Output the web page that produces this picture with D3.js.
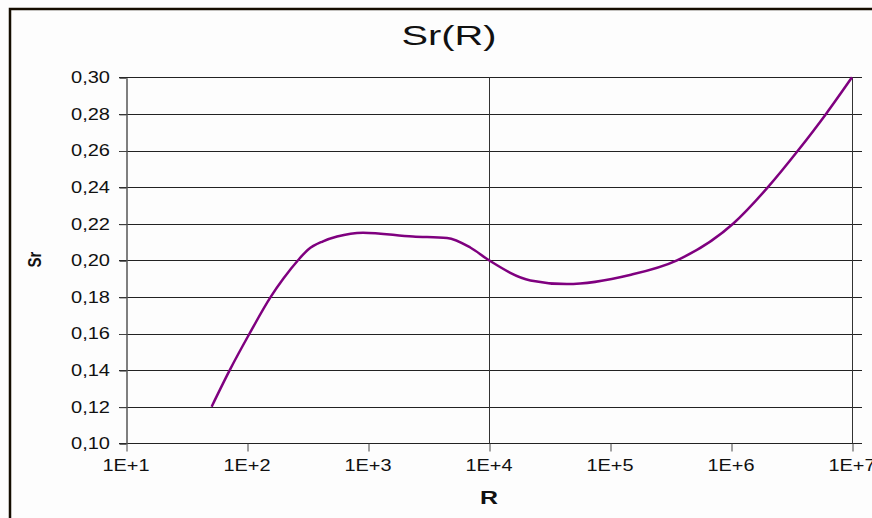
<!DOCTYPE html>
<html>
<head>
<meta charset="utf-8">
<script src="https://cdn.jsdelivr.net/npm/d3@7"></script>
<style>
  html, body { margin: 0; padding: 0; background: #fdfdfd; }
  svg { display: block; font-family: "Liberation Sans", Arial, sans-serif; }
</style>
</head>
<body>
<div id="chart"></div>
<script>
// Data
const rValues  = [51, 72, 105, 157, 200, 264, 319, 425, 555, 910, 2350, 4500, 7000, 10000, 22000, 44000, 146000, 358000, 1040000, 2020000, 3580000, 6100000, 10000000];
const srValues = [0.12, 0.14, 0.16, 0.18, 0.19, 0.20, 0.2058, 0.2104, 0.213, 0.2151, 0.213, 0.2122, 0.207, 0.20, 0.189, 0.187, 0.192, 0.20, 0.22, 0.24, 0.26, 0.28, 0.30];

const xTickValues = [1e1, 1e2, 1e3, 1e4, 1e5, 1e6, 1e7];
const xTickLabels = ["1E+1", "1E+2", "1E+3", "1E+4", "1E+5", "1E+6", "1E+7"];
const xGridValues = [1e4, 1e7];
const yTickValues = [0.10, 0.12, 0.14, 0.16, 0.18, 0.20, 0.22, 0.24, 0.26, 0.28, 0.30];

const data = rValues.map((r, i) => ({ r: r, sr: srValues[i] }));

const width = 872, height = 518;

const svg = d3.select("#chart")
              .append("svg")
              .attr("width", width)
              .attr("height", height);

// Chart border (runs off the right and bottom of the picture)
svg.append("rect")
   .attr("x", 10)
   .attr("y", 9)
   .attr("width", 900)
   .attr("height", 600)
   .attr("fill", "#fdfdfd")
   .attr("stroke", "#150d00")
   .attr("stroke-width", 2.5);

// Scales
const xScale = d3.scaleLog()
                 .domain([10, 1e7])
                 .range([126, 852]);

const yScale = d3.scaleLinear()
                 .domain([0.10, 0.30])
                 .range([443.3, 77.3]);

// Horizontal gridlines (they stick out a bit past the right edge)
svg.append("g")
   .selectAll("line")
   .data(yTickValues)
   .enter()
   .append("line")
   .attr("x1", 119)
   .attr("x2", 862)
   .attr("y1", d => Math.round(yScale(d)) + 0.5)
   .attr("y2", d => Math.round(yScale(d)) + 0.5)
   .attr("stroke", "#222")
   .attr("stroke-width", 1);

// Vertical gridlines
svg.append("g")
   .selectAll("line")
   .data(xGridValues)
   .enter()
   .append("line")
   .attr("x1", d => Math.round(xScale(d)) + 0.5)
   .attr("x2", d => Math.round(xScale(d)) + 0.5)
   .attr("y1", yScale(0.30))
   .attr("y2", yScale(0.10))
   .attr("stroke", "#333")
   .attr("stroke-width", 1);

// Y axis (left line + ticks)
const yAxis = svg.append("g")
   .attr("transform", "translate(126.5,0.5)")
   .call(d3.axisLeft(yScale)
           .tickValues(yTickValues)
           .tickSize(7)
           .tickSizeOuter(0)
           .tickFormat(""));
yAxis.select(".domain").attr("stroke", "#555").attr("stroke-width", 1.5);
yAxis.selectAll(".tick line").attr("stroke", "#444");

// X axis ticks
const xAxis = svg.append("g")
   .attr("transform", `translate(0.5,${Math.round(yScale(0.10)) + 0.5})`)
   .call(d3.axisBottom(xScale)
           .tickValues(xTickValues)
           .tickSize(8)
           .tickSizeOuter(0)
           .tickFormat(""));
xAxis.select(".domain").remove();
xAxis.selectAll(".tick line").attr("stroke", "#444");

// Y tick labels
svg.append("g")
   .selectAll("text")
   .data(yTickValues)
   .enter()
   .append("text")
   .attr("x", 110)
   .attr("y", d => yScale(d) + 5.8)
   .attr("text-anchor", "end")
   .attr("textLength", 39)
   .attr("lengthAdjust", "spacingAndGlyphs")
   .style("font-size", "16px")
   .style("fill", "#111")
   .text(d => d3.format(".2f")(d).replace(".", ","));

// X tick labels
svg.append("g")
   .selectAll("text")
   .data(xTickValues)
   .enter()
   .append("text")
   .attr("x", d => xScale(d))
   .attr("y", 470.5)
   .attr("text-anchor", "middle")
   .attr("textLength", 47)
   .attr("lengthAdjust", "spacingAndGlyphs")
   .style("font-size", "16px")
   .style("fill", "#111")
   .text((d, i) => xTickLabels[i]);

// Title
svg.append("text")
   .attr("x", 449)
   .attr("y", 45)
   .attr("text-anchor", "middle")
   .attr("textLength", 95)
   .attr("lengthAdjust", "spacingAndGlyphs")
   .style("font-size", "27px")
   .style("fill", "#111")
   .text("Sr(R)");

// Y axis label
svg.append("text")
   .attr("transform", "translate(35,259.5) scale(1.18,1) rotate(-90)")
   .attr("text-anchor", "middle")
   .attr("dy", "0.36em")
   .style("font-size", "15px")
   .style("font-weight", "bold")
   .style("fill", "#111")
   .text("Sr");

// X axis label
svg.append("text")
   .attr("x", 489)
   .attr("y", 504)
   .attr("text-anchor", "middle")
   .attr("textLength", 18)
   .attr("lengthAdjust", "spacingAndGlyphs")
   .style("font-size", "19px")
   .style("font-weight", "bold")
   .style("fill", "#111")
   .text("R");

// The curve
const line = d3.line()
               .x(d => xScale(d.r))
               .y(d => yScale(d.sr))
               .curve(d3.curveMonotoneX);

svg.append("path")
   .datum(data)
   .attr("fill", "none")
   .attr("stroke", "#7f007f")
   .attr("stroke-width", 2.5)
   .attr("d", line);
</script>
</body>
</html>
